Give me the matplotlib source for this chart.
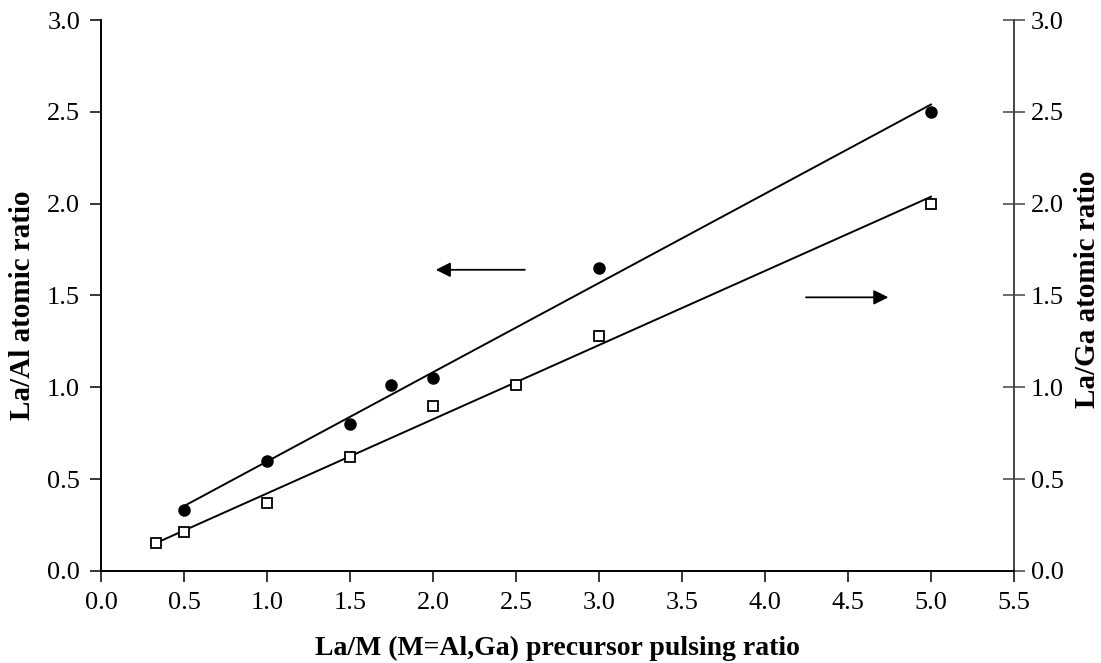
import numpy as np
from matplotlib import pyplot as plt

plt.rcParams['font.family'] = ['Liberation Serif', 'DejaVu Serif']

# La/Al (left axis) - filled circles
x_al = [0.5, 1.0, 1.5, 1.75, 2.0, 3.0, 5.0]
y_al = [0.33, 0.60, 0.80, 1.01, 1.05, 1.65, 2.50]

# La/Ga (right axis) - open squares
x_ga = [0.33, 0.5, 1.0, 1.5, 2.0, 2.5, 3.0, 5.0]
y_ga = [0.15, 0.21, 0.37, 0.62, 0.90, 1.01, 1.28, 2.00]

xticks = np.arange(0, 5.51, 0.5)
yticks = np.arange(0, 3.01, 0.5)

fig = plt.figure(figsize=(11.01, 6.63), dpi=100)
ax = fig.add_axes([0.0917, 0.1388, 0.8293, 0.831])
ax2 = ax.twinx()

# linear fits
p_al = np.polyfit(x_al, y_al, 1)
p_ga = np.polyfit(x_ga, y_ga, 1)
fx_al = np.array([min(x_al), max(x_al)])
fx_ga = np.array([min(x_ga), max(x_ga)])

ax.plot(fx_al, np.polyval(p_al, fx_al), color='black', lw=1.4)
ax.plot(x_al, y_al, 'o', color='black', ms=8, ls='none')
ax2.plot(fx_ga, np.polyval(p_ga, fx_ga), color='black', lw=1.4)
ax2.plot(x_ga, y_ga, 's', mfc='white', mec='black', mew=1.3, ms=7.5, ls='none')

# arrows pointing to the axes
ax.annotate('', xy=(2.0, 1.64), xytext=(2.57, 1.64),
            arrowprops=dict(arrowstyle='-|>', color='black', lw=1.3, mutation_scale=22))
ax.annotate('', xy=(4.76, 1.49), xytext=(4.23, 1.49),
            arrowprops=dict(arrowstyle='-|>', color='black', lw=1.3, mutation_scale=22))

for a in (ax, ax2):
    a.set_xlim(0, 5.5)
    a.set_ylim(0, 3.0)
    a.set_yticks(yticks)
    a.set_yticklabels(['%.1f' % v for v in yticks])
    a.spines['top'].set_visible(False)
    a.spines['left'].set_linewidth(1.2)
    a.spines['bottom'].set_linewidth(1.2)
    a.spines['right'].set_color('#444444')
    a.spines['right'].set_linewidth(1.2)

ax.set_xticks(xticks)
ax.set_xticklabels(['%.1f' % v for v in xticks])
ax.tick_params(axis='both', direction='out', length=8, width=1.1, labelsize=19, pad=7)
ax2.tick_params(axis='y', direction='inout', length=16, width=1.1, color='#444444',
                labelsize=19, pad=4)

ax.set_xlabel('La/M (M=Al,Ga) precursor pulsing ratio', fontsize=20, fontweight='bold', labelpad=16)
ax.set_ylabel('La/Al atomic ratio', fontsize=21, fontweight='bold', va='center')
ax2.set_ylabel('La/Ga atomic ratio', fontsize=21, fontweight='bold', va='center')
ax.yaxis.set_label_coords(-0.0854, 0.483)
ax2.yaxis.set_label_coords(1.081, 0.512)

fig.savefig('out.png', dpi=100)
